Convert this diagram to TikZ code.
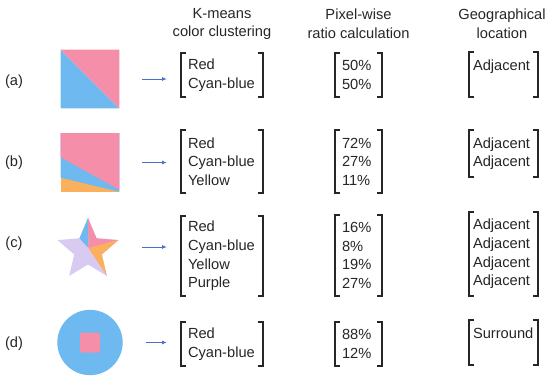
\documentclass[tikz,border=0pt]{standalone}
\usepackage{fontspec}
\setmainfont{Liberation Sans}
\usetikzlibrary{positioning,arrows.meta,calc}
\definecolor{cpink}{HTML}{F58EA8}
\definecolor{cblue}{HTML}{6EB9F0}
\definecolor{corange}{HTML}{FBB05E}
\definecolor{cpurple}{HTML}{D8CAF0}
\definecolor{carrow}{HTML}{4472C4}

\begin{document}
\begin{tikzpicture}[
  x=0.75pt, y=-0.75pt,
  font=\fontsize{11}{13.9}\selectfont,
  head/.style={align=center, inner sep=0pt, text=black!85},
  tag/.style={inner sep=0pt, text=black!85},
  shp/.style={inner sep=0pt, minimum size=43.5pt},
  mat/.style={align=left, inner ysep=0pt, text=black!85},
  km/.style={mat, inner xsep=5.25pt, text width=51pt},
  pct/.style={mat, inner xsep=5.25pt, text width=24.75pt},
  geo/.style={mat, inner xsep=3pt, text width=45.75pt},
  brk/.style={line width=1.2pt, black!85},
  arr/.style={-{Latex[length=3.5pt, width=3pt]}, carrow, line width=0.6pt,
              shorten <=17.25pt, shorten >=10.5pt}
]
\useasboundingbox (0,0) rectangle (550,383);
% ----- column heads -----
\node[head] (hkm)  at (222,24)   {K-means\\color clustering};
\node[head] (hpct) at (358.5,24) {Pixel-wise\\ratio calculation};
\node[head] (hgeo) at (502,24)   {Geographical\\location};
% ----- row tags -----
\node[tag] (la) at (14,82)  {(a)};
\node[tag] (lb) at (14,163) {(b)};
\node[tag] (lc) at (14,244) {(c)};
\node[tag] (ld) at (14,344) {(d)};
% ----- (a) two triangles -----
\node[shp] (sa) at (90,79) {};
\fill[cblue] (sa.north west) -- (sa.south east) -- (sa.south west) -- cycle;
\fill[cpink] (sa.north west) -- (sa.north east) -- (sa.south east) -- cycle;
% ----- (b) three bands -----
\node[shp] (sb) at (90,162.5) {};
\fill[corange] (sb.north west) rectangle (sb.south east);
\fill[cblue] (sb.north west) -- (sb.north east) -- (sb.south east)
  -- ($(sb.north west)!0.76!(sb.south west)$) -- cycle;
\fill[cpink] (sb.north west) -- (sb.north east)
  -- ($(sb.north east)!0.966!(sb.south east)$)
  -- ($(sb.north west)!0.41!(sb.south west)$) -- cycle;
% ----- (c) star -----
\node[shp, minimum width=46.5pt, minimum height=43.5pt] (sc) at (88,247) {};
\begin{scope}[shift={($(sc.center)+(0,3)$)}]
  \fill[cpurple] (-90:32) -- (-54:14.5) -- (-18:32) -- (18:14.5) -- (54:32)
    -- (90:14.5) -- (126:32) -- (162:14.5) -- (198:32) -- (234:14.5) -- cycle;
  \fill[cblue]   (0.5,-2) -- (-90:32) -- (234:14.5) -- cycle;
  \fill[cpink]   (0.5,-2) -- (-90:32) -- (-54:14.5) -- (-18:32) -- cycle;
  \fill[corange] (0.5,-2) -- (-18:32) -- (18:14.5) -- (54:32) -- cycle;
\end{scope}
% ----- (d) disc with square -----
\node[circle, fill=cblue, inner sep=0pt, minimum size=49pt] (sd) at (90,342.5) {};
\node[fill=cpink, inner sep=0pt, minimum size=15pt, rounded corners=1.5pt] (sdq) at (sd.center) {};
% ----- colour lists -----
\node[km, minimum height=33pt]    (ka) at (222,75)    {Red\\Cyan-blue};
\node[km, minimum height=47.25pt] (kb) at (222,161.5) {Red\\Cyan-blue\\Yellow};
\node[km, minimum height=60pt]    (kc) at (222,256)   {Red\\Cyan-blue\\Yellow\\Purple};
\node[km, minimum height=33pt]    (kd) at (222,344)   {Red\\Cyan-blue};
% ----- ratios -----
\node[pct, minimum height=33pt]    (pa) at (358.5,75)    {50\%\\50\%};
\node[pct, minimum height=47.25pt] (pb) at (358.5,161.5) {72\%\\27\%\\11\%};
\node[pct, minimum height=60.75pt] (pc) at (358.5,255.5) {16\%\\8\%\\19\%\\27\%};
\node[pct, minimum height=33pt]    (pd) at (358.5,344)   {88\%\\12\%};
% ----- locations -----
\node[geo, minimum height=33.75pt] (ga) at (503.5,74.5)  {Adjacent\\~};
\node[geo, minimum height=35.25pt] (gb) at (503.5,153.5) {Adjacent\\Adjacent};
\node[geo, minimum height=63pt]    (gc) at (503.5,254)   {Adjacent\\Adjacent\\Adjacent\\Adjacent};
\node[geo, minimum height=33.75pt] (gd) at (503.5,342.5) {Surround\\~};
% ----- brackets -----
\foreach \m in {ka,kb,kc,kd,pa,pb,pc,pd,ga,gb,gc,gd}{
  \draw[brk] ([xshift=4pt]\m.north west) -| (\m.south west) -- ++(4pt,0);
  \draw[brk] ([xshift=-4pt]\m.north east) -| (\m.south east) -- ++(-4pt,0);
}
% ----- arrows -----
\foreach \s/\k in {sa/ka, sb/kb, sc/kc, sd/kd}{\draw[arr] (\s.east) -- (\s.east -| \k.west);}
\end{tikzpicture}
\end{document}
